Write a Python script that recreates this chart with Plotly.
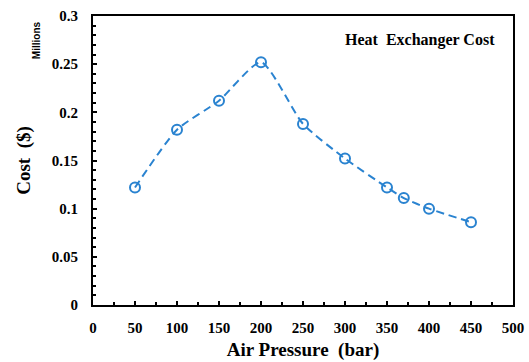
import plotly.graph_objects as go

pressure = [50, 100, 150, 200, 250, 300, 350, 370, 400, 450]
cost = [0.122, 0.182, 0.212, 0.252, 0.188, 0.152, 0.122, 0.111, 0.100, 0.086]

blue = "#2a83d0"
serif = "Liberation Serif, Times New Roman, serif"

fig = go.Figure()
fig.add_trace(go.Scatter(
    x=pressure, y=cost, mode="lines+markers",
    line=dict(color=blue, width=2, dash="8px,5px", shape="spline", smoothing=0.6),
    marker=dict(symbol="circle-open", size=10, color=blue, line=dict(width=2, color=blue)),
    showlegend=False,
))

fig.update_layout(
    width=529, height=362,
    margin=dict(l=93, r=16, t=16, b=57, autoexpand=False),
    paper_bgcolor="white", plot_bgcolor="white",
    font=dict(family=serif, color="black"),
    xaxis=dict(
        range=[0, 500], tickvals=list(range(0, 501, 50)),
        ticks="inside", ticklen=4, tickwidth=1.5, tickcolor="black",
        minor=dict(ticks="inside", dtick=25, ticklen=3, tickcolor="black"),
        showline=True, linecolor="black", linewidth=2, mirror=True,
        showgrid=False, zeroline=False, automargin=False,
        ticklabelstandoff=8,
        tickfont=dict(family=serif, size=15, color="black", weight="bold"),
        title=dict(text="Air Pressure  (bar)", font=dict(family=serif, size=19, color="black", weight="bold"), standoff=8),
    ),
    yaxis=dict(
        range=[0, 0.3], tickvals=[0, 0.05, 0.1, 0.15, 0.2, 0.25, 0.3],
        ticktext=["0", "0.05", "0.1", "0.15", "0.2", "0.25", "0.3"],
        ticks="inside", ticklen=4, tickwidth=1.5, tickcolor="black",
        minor=dict(ticks="inside", dtick=0.01, ticklen=3, tickcolor="black"),
        showline=True, linecolor="black", linewidth=2, mirror=True,
        showgrid=False, zeroline=False, automargin=False,
        ticklabelstandoff=10,
        tickfont=dict(family=serif, size=15, color="black", weight="bold"),
        title=dict(text="Cost  ($)", font=dict(family=serif, size=19, color="black", weight="bold"), standoff=16),
    ),
    annotations=[
        dict(text="Heat  Exchanger Cost", xref="paper", yref="paper", x=0.962, y=0.917,
             xanchor="right", yanchor="middle", showarrow=False,
             font=dict(family=serif, size=16, color="black", weight="bold")),
        dict(text="Millions", xref="paper", yref="paper", x=-0.133, y=0.917,
             xanchor="center", yanchor="middle", showarrow=False, textangle=-90,
             font=dict(family="Liberation Sans, Arial, sans-serif", size=10, color="black", weight="bold")),
    ],
)

fig.write_html("out.html")
